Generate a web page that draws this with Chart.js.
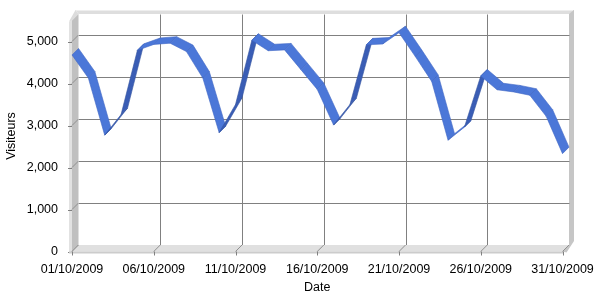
<!DOCTYPE html>
<html><head><meta charset="utf-8">
<script src="https://cdn.jsdelivr.net/npm/chart.js@4/dist/chart.umd.min.js"></script>
<style>html,body{margin:0;padding:0;background:#fff}</style>
</head><body>
<canvas id="c" width="600" height="300" style="width:600px;height:300px;display:block"></canvas>
<script>
const dates = ['01/10/2009','02/10/2009','03/10/2009','04/10/2009','05/10/2009','06/10/2009','07/10/2009','08/10/2009','09/10/2009','10/10/2009',
  '11/10/2009','12/10/2009','13/10/2009','14/10/2009','15/10/2009','16/10/2009','17/10/2009','18/10/2009','19/10/2009','20/10/2009',
  '21/10/2009','22/10/2009','23/10/2009','24/10/2009','25/10/2009','26/10/2009','27/10/2009','28/10/2009','29/10/2009','30/10/2009','31/10/2009'];
const visitors = [4680,4130,2770,3260,4790,4930,4960,4760,4130,2830,
  3500,5030,4780,4800,4330,3860,3010,3500,4920,4940,
  5210,4640,4050,2650,2960,4180,3850,3800,3720,3220,2330];
const yTickValues = [0,1000,2000,3000,4000,5000];
const xTickLabels = ['01/10/2009','06/10/2009','11/10/2009','16/10/2009','21/10/2009','26/10/2009','31/10/2009'];
const yMax = 5500;
const D = 6.5;

function line(ctx,x1,y1,x2,y2,color){ctx.strokeStyle=color;ctx.lineWidth=1;ctx.beginPath();ctx.moveTo(x1,y1);ctx.lineTo(x2,y2);ctx.stroke();}
function poly(ctx,pts,fill){ctx.fillStyle=fill;ctx.beginPath();ctx.moveTo(pts[0][0],pts[0][1]);for(let i=1;i<pts.length;i++)ctx.lineTo(pts[i][0],pts[i][1]);ctx.closePath();ctx.fill();}

const frame3d = {
  id:'frame3d',
  beforeDraw(chart){
    const ctx=chart.ctx, ca=chart.chartArea, xs=chart.scales.x, ys=chart.scales.y;
    const bx0=ca.left+D, bx1=ca.right+D, by0=ca.top-D, by1=ca.bottom-D;
    ctx.save();
    ctx.fillStyle='#fff';ctx.fillRect(0,0,chart.width,chart.height);
    poly(ctx,[[bx0-3,by0-4],[bx1+5,by0-4],[bx1+5,by0],[bx0,by0]],'#dedede');
    line(ctx,bx0-3,by0-3.5,bx1+4,by0-3.5,'#eeeeee');
    poly(ctx,[[bx1,by0],[bx1+5,by0-4],[bx1+5,by1-4],[ca.right+4,ca.bottom+1],[ca.right,ca.bottom],[bx1,by1]],'#c6c6c6');
    ctx.translate(0.5,0.5);
    yTickValues.forEach(v=>{ if(v===0) return; const y=Math.round(ys.getPixelForValue(v)-D); line(ctx,bx0,y,bx1,y,'#808080'); });
    xTickLabels.forEach(l=>{ const i=dates.indexOf(l); if(i===0||i===dates.length-1) return; const x=Math.round(xs.getPixelForValue(i)+D); line(ctx,x,by0,x,by1,'#808080'); });
    ctx.translate(-0.5,-0.5);
    poly(ctx,[[ca.left-3,ca.top+1],[bx0-3,by0-4],[bx0,by0],[ca.left,ca.top]],'#dcdcdc');
    poly(ctx,[[ca.left,ca.top],[bx0,by0],[bx0,by1],[ca.left,ca.bottom]],'#c0c0c0');
    poly(ctx,[[ca.left-3,ca.top+1],[ca.left,ca.top],[ca.left,ca.bottom],[ca.left-3,ca.bottom+1]],'#e2e2e2');
    yTickValues.forEach(v=>{ const yf=ys.getPixelForValue(v); line(ctx,bx0,yf-D,ca.left,yf,'#909090'); line(ctx,ca.left-4,Math.round(yf)+0.5,ca.left,Math.round(yf)+0.5,'#808080'); });
    poly(ctx,[[ca.left,ca.bottom],[bx0,by1],[bx1,by1],[ca.right,ca.bottom]],'#e0e0e0');
    poly(ctx,[[ca.left-3,ca.bottom],[ca.right+1,ca.bottom],[ca.right+1,ca.bottom+2],[ca.left-3,ca.bottom+2]],'#cccccc');
    xTickLabels.forEach(l=>{ const i=dates.indexOf(l); const xf=xs.getPixelForValue(i); line(ctx,xf+D,by1,xf,ca.bottom,'#909090'); line(ctx,Math.round(xf)+0.5,ca.bottom,Math.round(xf)+0.5,ca.bottom+4,'#808080'); });
    ctx.restore();
  },
  afterDatasetsDraw(chart){
    const ctx=chart.ctx, pts=chart.getDatasetMeta(0).data;
    ctx.save();
    for(let i=0;i<pts.length-1;i++){
      const a=pts[i], b=pts[i+1];
      const dx=b.x-a.x, dy=b.y-a.y;
      const under = (dx+dy) < 0;
      ctx.beginPath();
      ctx.moveTo(a.x,a.y);ctx.lineTo(b.x,b.y);ctx.lineTo(b.x+D,b.y-D);ctx.lineTo(a.x+D,a.y-D);ctx.closePath();
      ctx.fillStyle= under ? '#3a5db5' : '#4b77d8';
      ctx.fill();
      ctx.strokeStyle= under ? '#34549f' : '#3f66c4';
      ctx.lineWidth=0.6;
      ctx.stroke();
    }
    ctx.restore();
  }
};

const tickFont={family:'"Liberation Sans", Arial, sans-serif',size:12.5};
new Chart(document.getElementById('c'),{
  type:'line',
  data:{labels:dates,datasets:[{data:visitors,borderWidth:0,pointRadius:0,pointHoverRadius:0,showLine:false,fill:false}]},
  options:{
    responsive:false,animation:false,
    layout:{padding:{top:20.5,right:37.5,left:0,bottom:0}},
    plugins:{legend:{display:false},tooltip:{enabled:false}},
    events:[],
    scales:{
      x:{type:'category',offset:false,
        grid:{display:false},border:{display:false},
        ticks:{autoSkip:false,maxRotation:0,minRotation:0,padding:3,color:'#000',font:tickFont,
          callback:(v,i)=> xTickLabels.includes(dates[i]) ? dates[i] : null},
        title:{display:true,text:'Date',color:'#000',font:{family:'"Liberation Sans", Arial, sans-serif',size:12.5},padding:{top:0,bottom:5}},
        afterFit:s=>{s.height=48.5;}
      },
      y:{type:'linear',min:0,max:yMax,
        grid:{display:false},border:{display:false},
        afterBuildTicks:s=>{s.ticks=yTickValues.map(v=>({value:v}));},
        ticks:{padding:6,color:'#000',font:tickFont,callback:v=>v.toLocaleString('en-US')},
        title:{display:true,text:'Visiteurs',color:'#000',font:{family:'"Liberation Sans", Arial, sans-serif',size:12.5},padding:{top:4,bottom:0}},
        afterFit:s=>{s.width=72;}
      }
    }
  },
  plugins:[frame3d]
});
</script>
</body></html>
